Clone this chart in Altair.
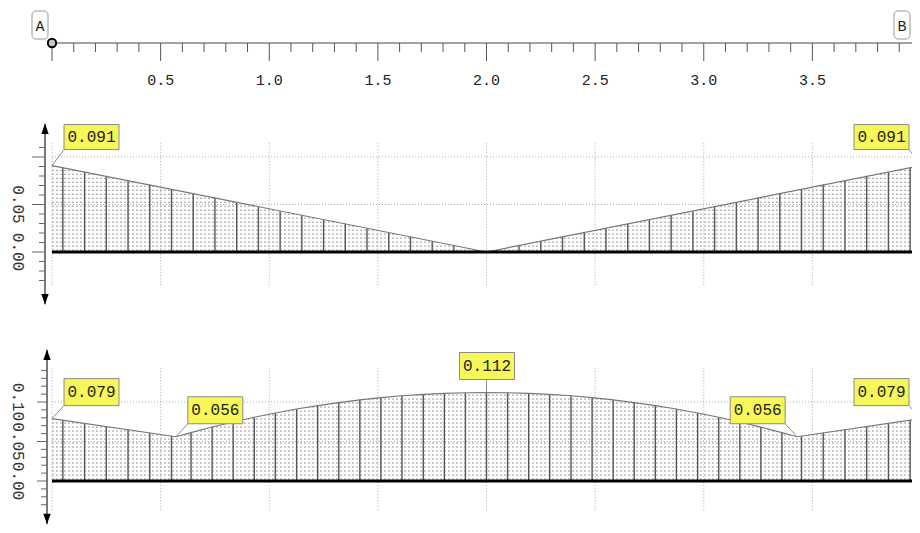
import altair as alt
import pandas as pd

# ---------------- data ----------------
ruler_major = [0.0, 0.5, 1.0, 1.5, 2.0, 2.5, 3.0, 3.5, 4.0]
ruler_minor = [0.1, 0.2, 0.3, 0.4, 0.6, 0.7, 0.8, 0.9, 1.1, 1.2, 1.3, 1.4,
               1.6, 1.7, 1.8, 1.9, 2.1, 2.2, 2.3, 2.4, 2.6, 2.7, 2.8, 2.9,
               3.1, 3.2, 3.3, 3.4, 3.6, 3.7, 3.8, 3.9]
ruler_label_x = [0.5, 1.0, 1.5, 2.0, 2.5, 3.0, 3.5]
ruler_labels = ["0.5", "1.0", "1.5", "2.0", "2.5", "3.0", "3.5"]
node_x = [0.0, 4.0]
node_names = ["A", "B"]

grid_x = [0.0, 0.5, 1.0, 1.5, 2.0, 2.5, 3.0, 3.5, 4.0]
grid_y = [0.05, 0.10]

# panel 1
p1_curve_x = [0.0, 2.0, 4.0]
p1_curve_y = [0.091, 0.0, 0.091]
p1_hatch_x = [0.05, 0.15, 0.25, 0.35, 0.45, 0.55, 0.65, 0.75, 0.85, 0.95,
              1.05, 1.15, 1.25, 1.35, 1.45, 1.55, 1.65, 1.75, 1.85, 1.95,
              2.05, 2.15, 2.25, 2.35, 2.45, 2.55, 2.65, 2.75, 2.85, 2.95,
              3.05, 3.15, 3.25, 3.35, 3.45, 3.55, 3.65, 3.75, 3.85, 3.95]
p1_hatch_y = [0.089, 0.084, 0.080, 0.075, 0.071, 0.066, 0.061, 0.057, 0.052, 0.048,
              0.043, 0.039, 0.034, 0.030, 0.025, 0.020, 0.016, 0.011, 0.007, 0.002,
              0.002, 0.007, 0.011, 0.016, 0.020, 0.025, 0.030, 0.034, 0.039, 0.043,
              0.048, 0.052, 0.057, 0.061, 0.066, 0.071, 0.075, 0.080, 0.084, 0.089]
p1_tick_major = [0.0, 0.05, 0.10]
p1_tick_minor = [-0.03, -0.02, -0.01, 0.01, 0.02, 0.03, 0.04, 0.06, 0.07, 0.08, 0.09, 0.11]
p1_tick_label_v = [0.0, 0.05]
p1_tick_labels = ["0.00", "0.05"]
p1_label_x = [0.0, 4.0]
p1_label_v = [0.091, 0.091]
p1_label_t = ["0.091", "0.091"]
p1_label_side = ["r", "l"]

# panel 2
p2_curve_x = [0.0, 0.57, 0.64, 0.737, 0.834, 0.931, 1.028, 1.126, 1.223, 1.32, 1.417,
              1.514, 1.611, 1.709, 1.806, 1.903, 2.0, 2.097, 2.194, 2.291, 2.389,
              2.486, 2.583, 2.68, 2.777, 2.874, 2.972, 3.069, 3.166, 3.263, 3.36,
              3.43, 4.0]
p2_curve_y = [0.079, 0.056, 0.0613, 0.0683, 0.0747, 0.0807, 0.0861, 0.0911, 0.0955,
              0.0993, 0.1027, 0.1055, 0.1079, 0.1097, 0.1110, 0.1117, 0.112, 0.1117,
              0.1110, 0.1097, 0.1079, 0.1055, 0.1027, 0.0993, 0.0955, 0.0911, 0.0861,
              0.0807, 0.0747, 0.0683, 0.0613, 0.056, 0.079]
p2_hatch_x = [0.05, 0.15, 0.25, 0.35, 0.45, 0.55,
              0.64, 0.737, 0.834, 0.931, 1.028, 1.126, 1.223, 1.32, 1.417, 1.514,
              1.611, 1.709, 1.806, 1.903, 2.0, 2.097, 2.194, 2.291, 2.389, 2.486,
              2.583, 2.68, 2.777, 2.874, 2.972, 3.069, 3.166, 3.263, 3.36,
              3.45, 3.55, 3.65, 3.75, 3.85, 3.95]
p2_hatch_y = [0.077, 0.073, 0.069, 0.065, 0.061, 0.057,
              0.0613, 0.0683, 0.0747, 0.0807, 0.0861, 0.0911, 0.0955, 0.0993, 0.1027,
              0.1055, 0.1079, 0.1097, 0.1110, 0.1117, 0.112, 0.1117, 0.1110, 0.1097,
              0.1079, 0.1055, 0.1027, 0.0993, 0.0955, 0.0911, 0.0861, 0.0807, 0.0747,
              0.0683, 0.0613,
              0.057, 0.061, 0.065, 0.069, 0.073, 0.077]
p2_tick_major = [0.0, 0.05, 0.10]
p2_tick_minor = [-0.03, -0.02, -0.01, 0.01, 0.02, 0.03, 0.04, 0.06, 0.07, 0.08, 0.09,
                 0.11, 0.12, 0.13, 0.14]
p2_tick_label_v = [0.0, 0.05, 0.10]
p2_tick_labels = ["0.00", "0.05", "0.10"]
p2_label_x = [0.0, 0.57, 2.0, 3.43, 4.0]
p2_label_v = [0.079, 0.056, 0.112, 0.056, 0.079]
p2_label_t = ["0.079", "0.056", "0.112", "0.056", "0.079"]
p2_label_side = ["r", "r", "c", "l", "l"]

# ---------------- layout / styles ----------------
W, H = 904, 517
FONT = "Liberation Mono"
xs = alt.Scale(domain=[0, 4], range=[44, 913], nice=False, zero=False)
s1 = alt.Scale(domain=[0, 0.1], range=[244, 149], nice=False, zero=False)
s2 = alt.Scale(domain=[0, 0.1], range=[473, 394], nice=False, zero=False)


def X(f):
    return alt.X(f, type="quantitative", scale=xs, axis=None)


def Y(f, s):
    return alt.Y(f, type="quantitative", scale=s, axis=None)


def XD(v):
    return alt.XDatum(v, scale=xs, axis=None, type="quantitative")


def YD(v, s):
    return alt.YDatum(v, scale=s, axis=None, type="quantitative")


layers = []

# ---- top ruler ----
RY = 35
layers.append(alt.Chart(pd.DataFrame({"a": [0]})).mark_rule(color="#444", strokeWidth=1).encode(
    x=XD(0.0), x2=alt.datum(4.0), y=alt.value(RY)))
layers.append(alt.Chart(pd.DataFrame({"x": ruler_minor})).mark_rule(color="#555", strokeWidth=1).encode(
    x=X("x"), y=alt.value(RY), y2=alt.value(RY + 9)))
layers.append(alt.Chart(pd.DataFrame({"x": ruler_major})).mark_rule(color="#555", strokeWidth=1).encode(
    x=X("x"), y=alt.value(RY), y2=alt.value(RY + 18)))
layers.append(alt.Chart(pd.DataFrame({"x": ruler_label_x, "t": ruler_labels})).mark_text(
    font=FONT, fontSize=15, color="#222", baseline="middle", align="center").encode(
    x=X("x"), y=alt.value(72), text="t"))
for nx, nt, off in zip(node_x, node_names, [0, -7]):
    nd = pd.DataFrame({"x": [nx], "t": [nt]})
    layers.append(alt.Chart(nd).mark_rect(fill="white", stroke="#999", strokeWidth=1, cornerRadius=4,
                                          xOffset=-20 + off, x2Offset=-4 + off).encode(
        x=X("x"), x2="x", y=alt.value(3), y2=alt.value(31)))
    layers.append(alt.Chart(nd).mark_text(font=FONT, fontSize=15, color="#222", dx=-12 + off,
                                          baseline="middle", align="center").encode(
        x=X("x"), y=alt.value(18), text="t"))
layers.append(alt.Chart(pd.DataFrame({"x": node_x})).mark_point(
    shape="circle", filled=True, fill="#c8c8c8", stroke="black",
    strokeWidth=2, size=70, opacity=1).encode(x=X("x"), y=alt.value(RY)))


def value_label(x, v, text, side, s, bottom, top):
    d = pd.DataFrame({"x": [x], "v": [v], "t": [text]})
    if side == "r":
        bx0, bx1, lx = 12, 67, 12
    elif side == "l":
        bx0, bx1, lx = -67, -12, -12
    else:
        bx0, bx1, lx = -27, 28, 0
    base = alt.Chart(d)
    out = [
        base.mark_rule(color="#8c8c8c", strokeWidth=1, xOffset=lx, yOffset=-bottom).encode(
            x=X("x"), x2="x", y=Y("v", s), y2="v"),
        base.mark_rect(fill="#f7f75a", stroke="#8a8a8a", strokeWidth=1,
                       xOffset=bx0, x2Offset=bx1, yOffset=-top, y2Offset=-bottom).encode(
            x=X("x"), x2="x", y=Y("v", s), y2="v"),
        base.mark_text(font=FONT, fontSize=16, color="#222", baseline="middle", align="center",
                       dx=(bx0 + bx1) / 2, dy=-(top + bottom) / 2).encode(
            x=X("x"), y=Y("v", s), text="t"),
    ]
    return out


def panel(s, cx, cy, hx, hy, tmaj, tmin, tlv, tlt, lx, lv, lt, lside,
          row_start, row_stop, row_step, mask_top, grid_lo, grid_hi,
          ax_x, ax_top, ax_bot, maj_len, bottom, top):
    out = []
    curve = pd.DataFrame({"x": cx, "y": cy})
    # texture rows
    out.append(alt.Chart(alt.sequence(row_start, row_stop, row_step, as_="v")).mark_rule(
        color="#9a9a9a", strokeWidth=1, strokeDash=[2, 2]).encode(
        y=Y("v", s), x=XD(0.0), x2=alt.datum(4.0)))
    # mask above the curve
    out.append(alt.Chart(curve).mark_area(color="white", opacity=1).encode(
        x=X("x"), y=Y("y", s), y2=alt.datum(mask_top)))
    # grid
    out.append(alt.Chart(pd.DataFrame({"x": grid_x})).mark_rule(
        color="#aaa", strokeWidth=1, strokeDash=[1, 2]).encode(
        x=X("x"), y=YD(grid_lo, s), y2=alt.datum(grid_hi)))
    out.append(alt.Chart(pd.DataFrame({"y": grid_y})).mark_rule(
        color="#aaa", strokeWidth=1, strokeDash=[1, 2]).encode(
        y=Y("y", s), x=XD(0.0), x2=alt.datum(4.0)))
    # hatch lines
    out.append(alt.Chart(pd.DataFrame({"x": hx, "h": hy})).mark_rule(
        color="#555", strokeWidth=1.4).encode(x=X("x"), y=Y("h", s), y2=alt.datum(0.0)))
    # curve
    out.append(alt.Chart(curve).mark_line(color="#777", strokeWidth=1.2).encode(
        x=X("x"), y=Y("y", s)))
    # baseline
    out.append(alt.Chart(pd.DataFrame({"a": [0]})).mark_rule(color="black", strokeWidth=3).encode(
        x=XD(0.0), x2=alt.datum(4.0), y=YD(0.0, s)))
    # y axis
    out.append(alt.Chart(pd.DataFrame({"a": [0]})).mark_rule(color="#222", strokeWidth=1.2).encode(
        x=alt.value(ax_x), y=YD(ax_top, s), y2=alt.datum(ax_bot)))
    out.append(alt.Chart(pd.DataFrame({"a": [0]})).mark_point(
        shape="M0,-1L0.7,1L-0.7,1Z", filled=True, color="black", size=110, opacity=1, yOffset=5).encode(
        x=alt.value(ax_x), y=YD(ax_top, s)))
    out.append(alt.Chart(pd.DataFrame({"a": [0]})).mark_point(
        shape="M0,1L0.7,-1L-0.7,-1Z", filled=True, color="black", size=110, opacity=1, yOffset=-5).encode(
        x=alt.value(ax_x), y=YD(ax_bot, s)))
    out.append(alt.Chart(pd.DataFrame({"y": tmin})).mark_rule(color="#666", strokeWidth=1).encode(
        y=Y("y", s), x=alt.value(ax_x - 6), x2=alt.value(ax_x)))
    out.append(alt.Chart(pd.DataFrame({"y": tmaj})).mark_rule(color="#666", strokeWidth=1).encode(
        y=Y("y", s), x=alt.value(ax_x - maj_len), x2=alt.value(ax_x)))
    out.append(alt.Chart(pd.DataFrame({"y": tlv, "t": tlt})).mark_text(
        font=FONT, fontSize=16, color="#333", angle=90, baseline="middle", align="center").encode(
        y=Y("y", s), x=alt.value(10), text="t"))
    for x, v, t, sd in zip(lx, lv, lt, lside):
        out.extend(value_label(x, v, t, sd, s, bottom, top))
    return out


layers += panel(s1, p1_curve_x, p1_curve_y, p1_hatch_x, p1_hatch_y, p1_tick_major, p1_tick_minor,
                p1_tick_label_v, p1_tick_labels, p1_label_x, p1_label_v, p1_label_t, p1_label_side,
                0.002, 0.0935, 0.0042, 0.1, -0.035, 0.115, 37, 0.135, -0.055, 13, 16, 41)
layers += panel(s2, p2_curve_x, p2_curve_y, p2_hatch_x, p2_hatch_y, p2_tick_major, p2_tick_minor,
                p2_tick_label_v, p2_tick_labels, p2_label_x, p2_label_v, p2_label_t, p2_label_side,
                0.0025, 0.114, 0.00506, 0.12, -0.037, 0.143, 39, 0.166, -0.0544, 10, 13, 40)

chart = alt.layer(*layers).resolve_scale(y="independent").properties(
    width=W, height=H, padding=0, autosize=alt.AutoSizeParams(type="none"),
    background="white").configure_view(stroke=None)

chart.save("out.html", embed_options={"renderer": "svg", "actions": False})
